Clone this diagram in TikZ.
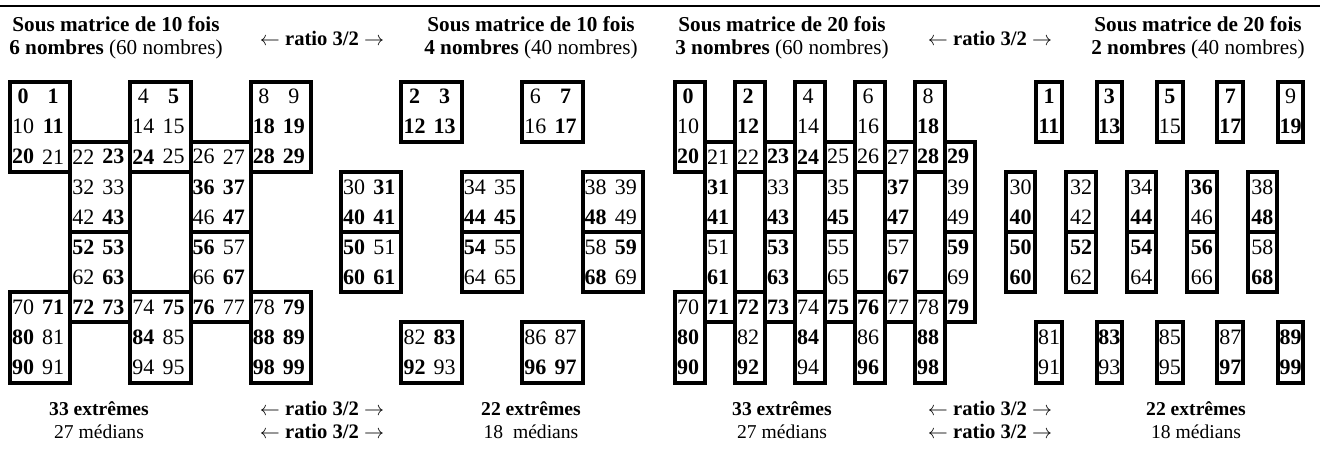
\documentclass[tikz,border=0pt]{standalone}
\usepackage{fontspec}
\setmainfont{Liberation Serif}
\tikzset{
  cellbox/.style={line width=2pt},
  cell/.style={inner sep=0pt, font=\fontsize{11}{13}\selectfont},
  head/.style={align=center, font=\fontsize{10.6}{11.5}\selectfont},
  ratio/.style={align=center, font=\fontsize{10.3}{11.5}\selectfont},
  count/.style={align=center, font=\fontsize{9.8}{11.5}\selectfont},
}
% numbers printed in bold
\def\extremes{0,1,2,3,5,7,11,12,13,17,18,19,20,23,24,28,29,31,36,37,40,41,43,44,45,47,48,50,52,53,54,56,59,60,61,63,67,68,71,72,73,75,76,79,80,83,84,88,89,90,92,96,97,98,99}
\foreach \n in \extremes {\expandafter\gdef\csname ext\n\endcsname{}}
\newcommand\extnum[1]{\ifcsname ext#1\endcsname\textbf{#1}\else#1\fi}
\def\rowtop{81.5}
\def\rowh{30.1}
\def\padl{0}
\def\padr{0}
\def\tshift{-2}
% #1 name, #2 x0, #3 column width, #4/#5 first col/row, #6/#7 last col/row
\newcommand\matbox[7]{%
  \draw[cellbox] ({#2+(#4+\padl)*#3},{\rowtop+#5*\rowh}) rectangle ({#2+(#6+1+\padr)*#3},{\rowtop+(#7+1)*\rowh});
  \foreach \r in {#5,...,#7}{\foreach \c in {#4,...,#6}{%
    \pgfmathtruncatemacro\n{10*\r+\c}%
    \node[cell] (#1-\n) at ({#2+(\c+0.5+(\padl+\padr)/2)*#3+\tshift},{\rowtop+(\r+0.5)*\rowh}) {\extnum{\n}};}}}

\begin{document}
\begin{tikzpicture}[x=0.5pt, y=-0.5pt]
  \useasboundingbox (0,0) rectangle (1320,457);
  \draw[line width=1pt] (0,6) -- (1320,6);

  % headings
  \node[head] (h1) at (116,38) {\textbf{Sous matrice de 10 fois}\\\textbf{6 nombres} (60 nombres)};
  \node[ratio] (q1) at (322,38) {$\leftarrow$ \textbf{ratio 3/2} $\rightarrow$};
  \node[head] (h2) at (531,38) {\textbf{Sous matrice de 10 fois}\\\textbf{4 nombres} (40 nombres)};
  \node[head] (h3) at (782,38) {\textbf{Sous matrice de 20 fois}\\\textbf{3 nombres} (60 nombres)};
  \node[ratio] (q2) at (990,38) {$\leftarrow$ \textbf{ratio 3/2} $\rightarrow$};
  \node[head] (h4) at (1198,38) {\textbf{Sous matrice de 20 fois}\\\textbf{2 nombres} (40 nombres)};

  % panel 1
  \foreach \i/\j/\k/\l in {0/0/1/2, 4/0/5/2, 8/0/9/2, 2/2/3/4, 6/2/7/4, 2/5/3/7, 6/5/7/7, 0/7/1/9, 4/7/5/9, 8/7/9/9}
    {\matbox{a}{10}{30.1}{\i}{\j}{\k}{\l}}
  % panel 2
  \foreach \i/\j/\k/\l in {2/0/3/1, 6/0/7/1, 0/3/1/4, 0/5/1/6, 4/3/5/4, 4/5/5/6, 8/3/9/4, 8/5/9/6, 2/8/3/9, 6/8/7/9}
    {\matbox{b}{341}{30.2}{\i}{\j}{\k}{\l}}
  % panel 3
  \foreach \i in {0,2,4,6,8} {\matbox{c}{675}{30}{\i}{0}{\i}{2} \matbox{c}{675}{30}{\i}{7}{\i}{9}}
  \foreach \i in {1,3,5,7,9} {\matbox{c}{675}{30}{\i}{2}{\i}{4} \matbox{c}{675}{30}{\i}{5}{\i}{7}}
  % panel 4
  \foreach \i in {1,3,5,7,9} {\def\padl{0}\def\padr{-0.15}\def\tshift{0}%
    \matbox{d}{1006}{30.2}{\i}{0}{\i}{1} \matbox{d}{1006}{30.2}{\i}{8}{\i}{9}}
  \foreach \i in {0,2,4,6,8} {\def\padr{-0.03}\def\tshift{0}%
    \matbox{d}{1006}{30.2}{\i}{3}{\i}{4} \matbox{d}{1006}{30.2}{\i}{5}{\i}{6}}

  % counts
  \node[count] (f1) at (99,420) {\textbf{33 extrêmes}\\27 médians};
  \node[ratio] (g1) at (322,420) {$\leftarrow$ \textbf{ratio 3/2} $\rightarrow$\\$\leftarrow$ \textbf{ratio 3/2} $\rightarrow$};
  \node[count] (f2) at (531,420) {\textbf{22 extrêmes}\\18~~médians};
  \node[count] (f3) at (782,420) {\textbf{33 extrêmes}\\27 médians};
  \node[ratio] (g2) at (990,420) {$\leftarrow$ \textbf{ratio 3/2} $\rightarrow$\\$\leftarrow$ \textbf{ratio 3/2} $\rightarrow$};
  \node[count] (f4) at (1196,420) {\textbf{22 extrêmes}\\18 médians};
\end{tikzpicture}
\end{document}
